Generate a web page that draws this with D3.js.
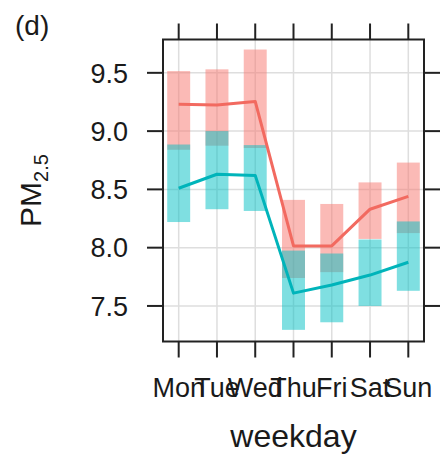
<!DOCTYPE html>
<html><head><meta charset="utf-8">
<script src="https://cdn.jsdelivr.net/npm/d3@7"></script>
<style>body{margin:0;background:#fff}svg{display:block}text{font-family:"Liberation Sans",Arial,sans-serif;fill:#1a1a1a}</style>
</head><body>
<script>
const days = ["Mon","Tue","Wed","Thu","Fri","Sat","Sun"];
const yTicks = [7.5, 8.0, 8.5, 9.0, 9.5];
const redMean  = [9.23, 9.225, 9.255, 8.015, 8.015, 8.33, 8.44];
const redLower = [8.84, 8.875, 8.855, 7.74, 7.79, 8.075, 8.125];
const redUpper = [9.515, 9.53, 9.70, 8.41, 8.375, 8.56, 8.73];
const cyanMean  = [8.51, 8.63, 8.62, 7.61, 7.68, 7.765, 7.875];
const cyanLower = [8.22, 8.33, 8.315, 7.295, 7.36, 7.50, 7.63];
const cyanUpper = [8.885, 9.0, 8.88, 7.975, 7.95, 8.07, 8.225];

const W = 440, H = 455;
const L = 163, R = 424, T = 39.5, B = 341.5;
const svg = d3.select("body").append("svg").attr("width", W).attr("height", H);

const x = d3.scalePoint().domain(days).range([L, R]).padding(0.41);
const y = d3.scaleLinear().domain([7.195, 9.786]).range([B, T]);
const bw = x.step() * 0.6;

// grid
svg.append("g").selectAll("line").data(days).join("line")
  .attr("x1", d => x(d)).attr("x2", d => x(d)).attr("y1", T).attr("y2", B)
  .attr("stroke", "#dedede").attr("stroke-width", 1.5);
svg.append("g").selectAll("line").data(yTicks).join("line")
  .attr("x1", L).attr("x2", R).attr("y1", d => y(d)).attr("y2", d => y(d))
  .attr("stroke", "#dedede").attr("stroke-width", 1.5);

const series = [
  {lo: redLower, hi: redUpper, mean: redMean, fill: "#F8766D", line: "#F26A60"},
  {lo: cyanLower, hi: cyanUpper, mean: cyanMean, fill: "#00BFC4", line: "#00B4BA"}
];
series.forEach(s => {
  svg.append("g").selectAll("rect").data(days).join("rect")
    .attr("x", d => x(d) - bw / 2).attr("width", bw)
    .attr("y", (d, i) => y(s.hi[i])).attr("height", (d, i) => y(s.lo[i]) - y(s.hi[i]))
    .attr("fill", s.fill).attr("fill-opacity", 0.5);
});
series.forEach(s => {
  const line = d3.line().x((d, i) => x(days[i])).y(d => y(d));
  svg.append("path").datum(s.mean).attr("d", line)
    .attr("fill", "none").attr("stroke", s.line).attr("stroke-width", 3).attr("stroke-linejoin", "round");
});

// box
svg.append("rect").attr("x", L).attr("y", T).attr("width", R - L).attr("height", B - T)
  .attr("fill", "none").attr("stroke", "#222").attr("stroke-width", 2);

const tk = 16;
const tg = svg.append("g").attr("stroke", "#222").attr("stroke-width", 2);
days.forEach(d => {
  tg.append("line").attr("x1", x(d)).attr("x2", x(d)).attr("y1", B).attr("y2", B + tk);
  tg.append("line").attr("x1", x(d)).attr("x2", x(d)).attr("y1", T).attr("y2", T - tk);
});
yTicks.forEach(v => {
  tg.append("line").attr("x1", L).attr("x2", L - tk).attr("y1", y(v)).attr("y2", y(v));
  tg.append("line").attr("x1", R).attr("x2", R + tk).attr("y1", y(v)).attr("y2", y(v));
});

svg.append("g").selectAll("text").data(yTicks).join("text")
  .attr("x", 128).attr("y", d => y(d)).attr("dy", "0.36em")
  .attr("text-anchor", "end").attr("font-size", 27)
  .text(d => d.toFixed(1));
svg.append("g").selectAll("text").data(days).join("text")
  .attr("x", d => x(d)).attr("y", 397)
  .attr("text-anchor", "middle").attr("font-size", 27)
  .text(d => d);

svg.append("text").attr("x", (L + R) / 2).attr("y", 447)
  .attr("text-anchor", "middle").attr("font-size", 32).text("weekday");

const yl = svg.append("text").attr("transform", `translate(41,${(T + B) / 2}) rotate(-90)`)
  .attr("text-anchor", "middle").attr("font-size", 30);
yl.append("tspan").text("PM");
yl.append("tspan").attr("font-size", 20).attr("dy", 7).text("2.5");

svg.append("text").attr("x", 15).attr("y", 35).attr("font-size", 28).text("(d)");
</script>
</body></html>
